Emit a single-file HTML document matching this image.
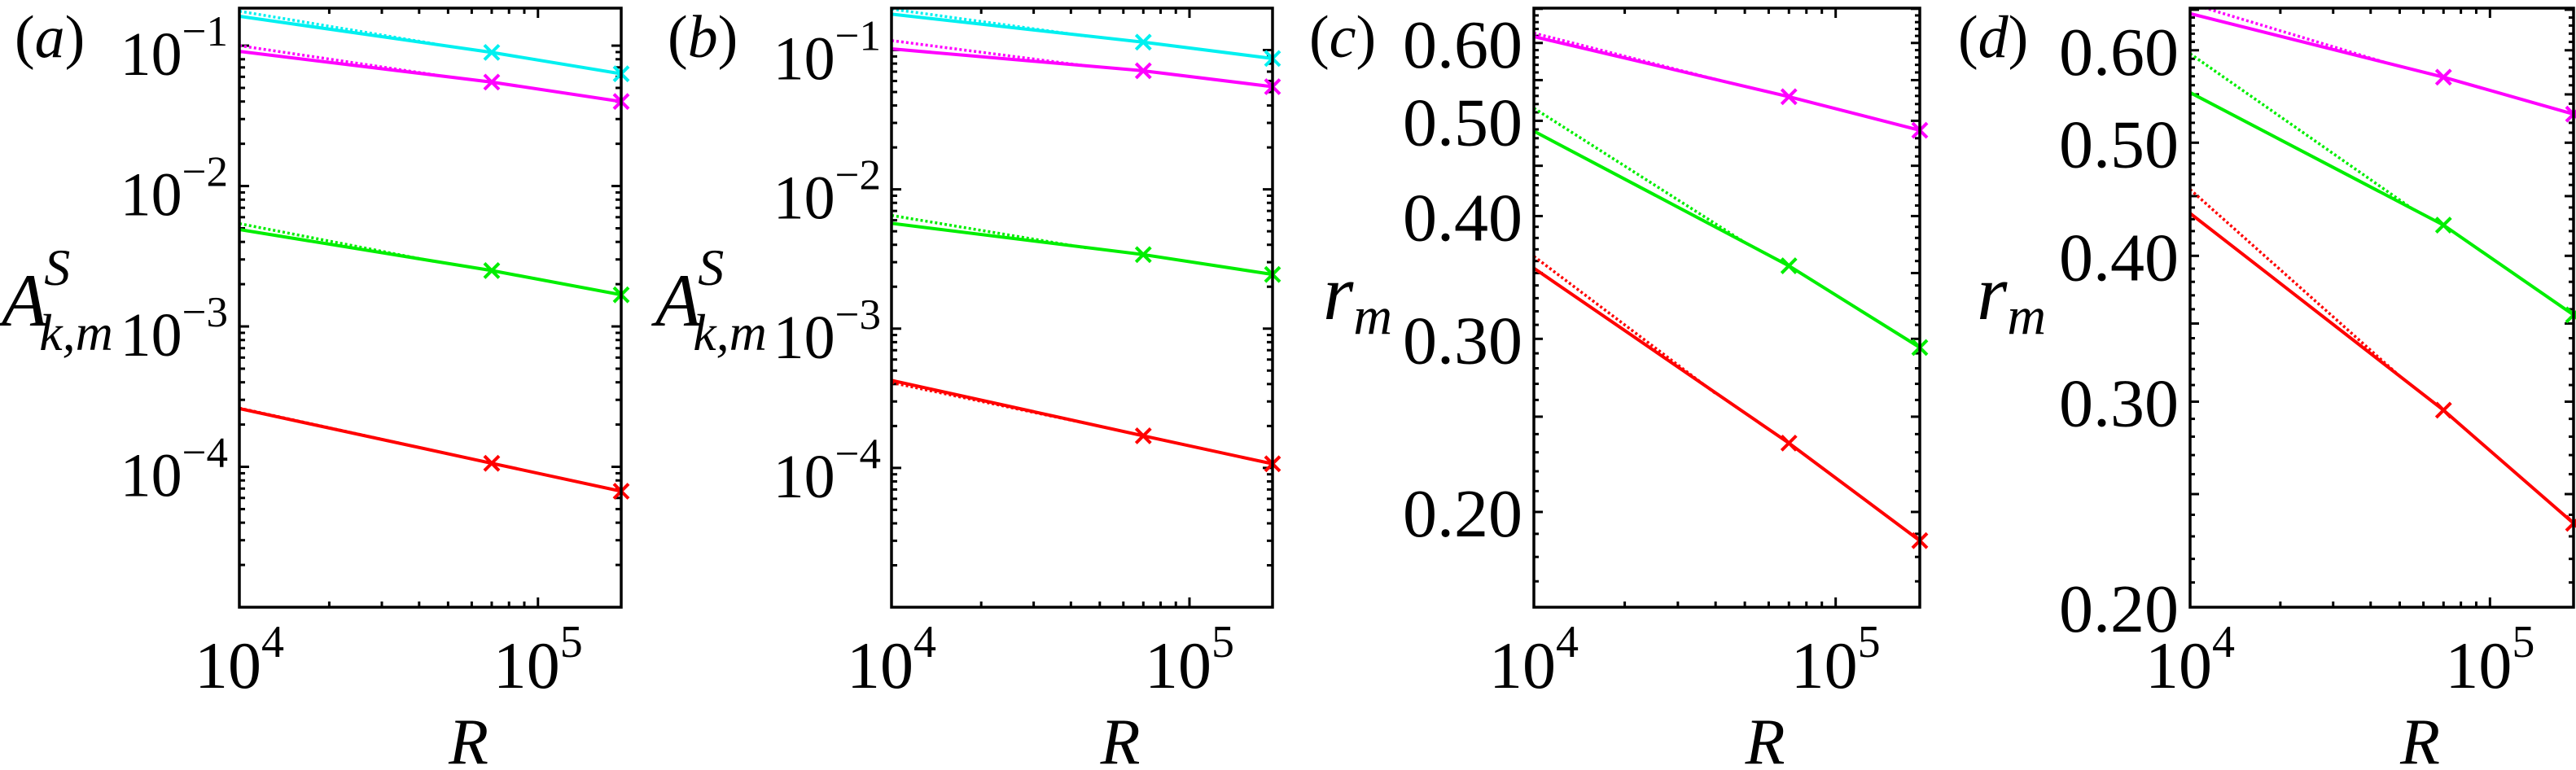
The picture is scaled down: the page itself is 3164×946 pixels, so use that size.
<!DOCTYPE html>
<html><head><meta charset="utf-8"><style>
html,body{margin:0;padding:0;background:#fff;}
svg{display:block;}
svg text{font-family:"Liberation Serif","DejaVu Serif","Times New Roman",serif;fill:#000;}
</style></head><body>
<svg id="fig" width="3164" height="946" viewBox="0 0 3164 946" xmlns="http://www.w3.org/2000/svg" font-family="Liberation Serif, DejaVu Serif, serif"></svg>
<script>
// ---- data ----
const markerR = [1e4, 7e4, 1.9e5];
const xTickLabels = ["4", "5"];
const seriesNames = ["cyan", "magenta", "green", "red"];
const seriesColors = ["#00f0f0", "#ff00ff", "#00ee00", "#ff0000"];
// panel a
const aCyan = [0.162, 0.0895, 0.063];
const aMag = [0.091, 0.055, 0.040];
const aGrn = [0.0049, 0.0025, 0.00168];
const aRed = [2.6e-4, 1.06e-4, 6.7e-5];
const aFitR = [1e4, 4.5e4];
const aCyanFit = [0.176, 0.103];
const aMagFit = [0.100, 0.062];
const aGrnFit = [0.0054, 0.0029];
const aRedFit = [2.62e-4, 1.3e-4];
// panel b
const bCyan = [0.181, 0.114, 0.087];
const bMag = [0.102, 0.071, 0.0546];
const bGrn = [0.0057, 0.0034, 0.00245];
const bRed = [4.25e-4, 1.7e-4, 1.07e-4];
const bFitR = [1e4, 4.5e4];
const bCyanFit = [0.197, 0.126];
const bMagFit = [0.117, 0.077];
const bGrnFit = [0.0065, 0.0038];
const bRedFit = [4.1e-4, 2.09e-4];
// panel c
const cMag = [0.609, 0.529, 0.489];
const cGrn = [0.488, 0.356, 0.294];
const cRed = [0.354, 0.235, 0.187];
const cMagFitR = [1e4, 4.5e4];
const cGrnFitR = [1e4, 5e4];
const cRedFitR = [1e4, 4e4];
const cMagFit = [0.614, 0.546];
const cGrnFit = [0.515, 0.376];
const cRedFit = [0.364, 0.264];
// panel d
const dMag = [0.645, 0.569, 0.529];
const dGrn = [0.552, 0.425, 0.356];
const dRed = [0.435, 0.295, 0.236];
const dMagFitR = [1e4, 4.5e4];
const dGrnFitR = [1e4, 5.5e4];
const dRedFitR = [1e4, 5e4];
const dMagFit = [0.658, 0.5855];
const dGrnFit = [0.596, 0.439];
const dRedFit = [0.456, 0.3155];
// y tick labels
const logYExps = ["-1", "-2", "-3", "-4"];
const rmTicks = ["0.60", "0.50", "0.40", "0.30", "0.20"];

const NS = "http://www.w3.org/2000/svg";
const svg = document.getElementById("fig");
function mk(tag, attrs, parent) {
  const e = document.createElementNS(NS, tag);
  for (const k in attrs) e.setAttribute(k, attrs[k]);
  (parent || svg).appendChild(e);
  return e;
}

const panels = [
  {id:"a", x0:294, x1:763, y0:10, y1:746, ymin:1e-5, ymax:0.185, kind:"log", labX:18, ylabX:2, tickRight:280, fs:76,
   series:[[aCyan,aFitR,aCyanFit,0],[aMag,aFitR,aMagFit,1],[aGrn,aFitR,aGrnFit,2],[aRed,aFitR,aRedFit,3]]},
  {id:"b", x0:1095, x1:1563, y0:10, y1:746, ymin:1e-5, ymax:0.2, kind:"log", labX:820, ylabX:805, tickRight:1082, fs:76,
   series:[[bCyan,bFitR,bCyanFit,0],[bMag,bFitR,bMagFit,1],[bGrn,bFitR,bGrnFit,2],[bRed,bFitR,bRedFit,3]]},
  {id:"c", x0:1884, x1:2358, y0:10, y1:746, ymin:0.160, ymax:0.651, kind:"rm", labX:1608, ylabX:1625, tickRight:1870, fs:84,
   series:[[cMag,cMagFitR,cMagFit,1],[cGrn,cGrnFitR,cGrnFit,2],[cRed,cRedFitR,cRedFit,3]]},
  {id:"d", x0:2690, x1:3161, y0:10, y1:746, ymin:0.2, ymax:0.652, kind:"rm", labX:2405, ylabX:2428, tickRight:2676, fs:84,
   series:[[dMag,dMagFitR,dMagFit,1],[dGrn,dGrnFitR,dGrnFit,2],[dRed,dRedFitR,dRedFit,3]]}
];

panels.forEach(p => {
  const g = mk("g", {});
  
  
  const xmin = 1e4, xmax = 1.9e5;
  const sx = v => p.x0 + (Math.log10(v) - Math.log10(xmin)) / (Math.log10(xmax) - Math.log10(xmin)) * (p.x1 - p.x0);
  const sy = v => p.y1 - (Math.log10(v) - Math.log10(p.ymin)) / (Math.log10(p.ymax) - Math.log10(p.ymin)) * (p.y1 - p.y0);

  const clipId = "clip-" + p.id;
  const cp = mk("clipPath", {id: clipId}, g);
  mk("rect", {x:p.x0, y:p.y0, width:p.x1-p.x0, height:p.y1-p.y0}, cp);

  for (let dec = 4; dec <= 5; dec++) for (let m = 1; m <= 9; m++) {
    const v = m * Math.pow(10, dec);
    if (v < xmin || v > xmax) continue;
    const x = sx(v), L = m === 1 ? 12 : 7;
    const t1 = mk("line", {x1:x, y1:p.y1, x2:x, y2:p.y1-L, stroke:"#000", "stroke-width":3}, g);
    
    
    mk("line", {x1:x, y1:p.y0, x2:x, y2:p.y0+L, stroke:"#000", "stroke-width":3}, g);
  }
  xTickLabels.forEach(e => {
    const x = sx(Math.pow(10, +e));
    const t = mk("text", {x:x, y:845, "font-size":82, "text-anchor":"middle"}, g);
    
    
    t.innerHTML = '10<tspan dy="-38" font-size="56">' + e + '</tspan>';
  });
  const xt = mk("text", {x:(p.x0+p.x1)/2 + 47, y:938, "font-size":80, "font-style":"italic", "text-anchor":"middle"}, g);
  
  
  xt.textContent = "R";

  if (p.kind === "log") {
    for (let dec = -5; dec <= -1; dec++) for (let m = 1; m <= 9; m++) {
      const v = m * Math.pow(10, dec);
      if (v < p.ymin || v > p.ymax) continue;
      const y = sy(v), L = m === 1 ? 12 : 7;
      const t = mk("line", {x1:p.x0, y1:y, x2:p.x0+L, y2:y, stroke:"#000", "stroke-width":3}, g);
      
      
      mk("line", {x1:p.x1, y1:y, x2:p.x1-L, y2:y, stroke:"#000", "stroke-width":3}, g);
    }
    logYExps.forEach(e => {
      const y = sy(Math.pow(10, +e));
      const t = mk("text", {x:p.tickRight, y:y+36, "font-size":p.fs, "text-anchor":"end"}, g);
      
      
      t.innerHTML = '10<tspan dy="-36" font-size="' + Math.round(p.fs*0.7) + '">\u2212' + e.slice(1) + '</tspan>';
    });
  } else {
    for (let k = 16; k <= 65; k++) {
      const v = k / 100;
      if (v < p.ymin || v > p.ymax) continue;
      const y = sy(v), L = (k % 5 === 0) ? 11 : 6;
      const t = mk("line", {x1:p.x0, y1:y, x2:p.x0+L, y2:y, stroke:"#000", "stroke-width":3}, g);
      
      
      mk("line", {x1:p.x1, y1:y, x2:p.x1-L, y2:y, stroke:"#000", "stroke-width":3}, g);
    }
    rmTicks.forEach(s => {
      const v = parseFloat(s);
      if (v < p.ymin - 1e-6 || v > p.ymax) return;
      const t = mk("text", {x:p.tickRight, y:sy(v)+30, "font-size":p.fs, "text-anchor":"end"}, g);
      
      
      t.textContent = s;
    });
  }

  p.series.forEach(s => {
    const [vals, fitR, fitV, ci] = s;
    const col = seriesColors[ci];
    const fit = mk("polyline", {points: fitR.map((r,i)=>sx(r)+","+sy(fitV[i])).join(" "), fill:"none", stroke:col, "stroke-width":3.5, "stroke-dasharray":"3,3", "clip-path":"url(#"+clipId+")"}, g);
    
    
    const ln = mk("polyline", {points: markerR.map((r,i)=>sx(r)+","+sy(vals[i])).join(" "), fill:"none", stroke:col, "stroke-width":4, "clip-path":"url(#"+clipId+")"}, g);
    
    
    [1, 2].forEach(i => {
      const x = sx(markerR[i]), y = sy(vals[i]), d = 9;
      const mkr = mk("path", {d:`M${x-d},${y-d}L${x+d},${y+d}M${x-d},${y+d}L${x+d},${y-d}`, stroke:col, "stroke-width":4, fill:"none"}, g);
      
      
    });
  });

  const fr = mk("rect", {x:p.x0, y:p.y0, width:p.x1-p.x0, height:p.y1-p.y0, fill:"none", stroke:"#000", "stroke-width":3.5}, g);
  
  

  const pl = mk("text", {x:p.labX, y:70, "font-size":74}, g);
  
  
  pl.innerHTML = '(<tspan font-style="italic">' + p.id + '</tspan>)';

  const yt = mk("text", {x:p.ylabX, y:p.kind==="log"?400:392, "font-size":p.kind==="log"?92:96, "font-style":"italic"}, g);
  
  
  if (p.kind === "log") {
    yt.innerHTML = 'A<tspan dy="-50" dx="-4" font-size="64">S</tspan><tspan dx="-38" dy="80" font-size="64">k,m</tspan>';
  } else {
    yt.innerHTML = 'r<tspan dy="18" font-size="66">m</tspan>';
  }
});
</script>
</body></html>
